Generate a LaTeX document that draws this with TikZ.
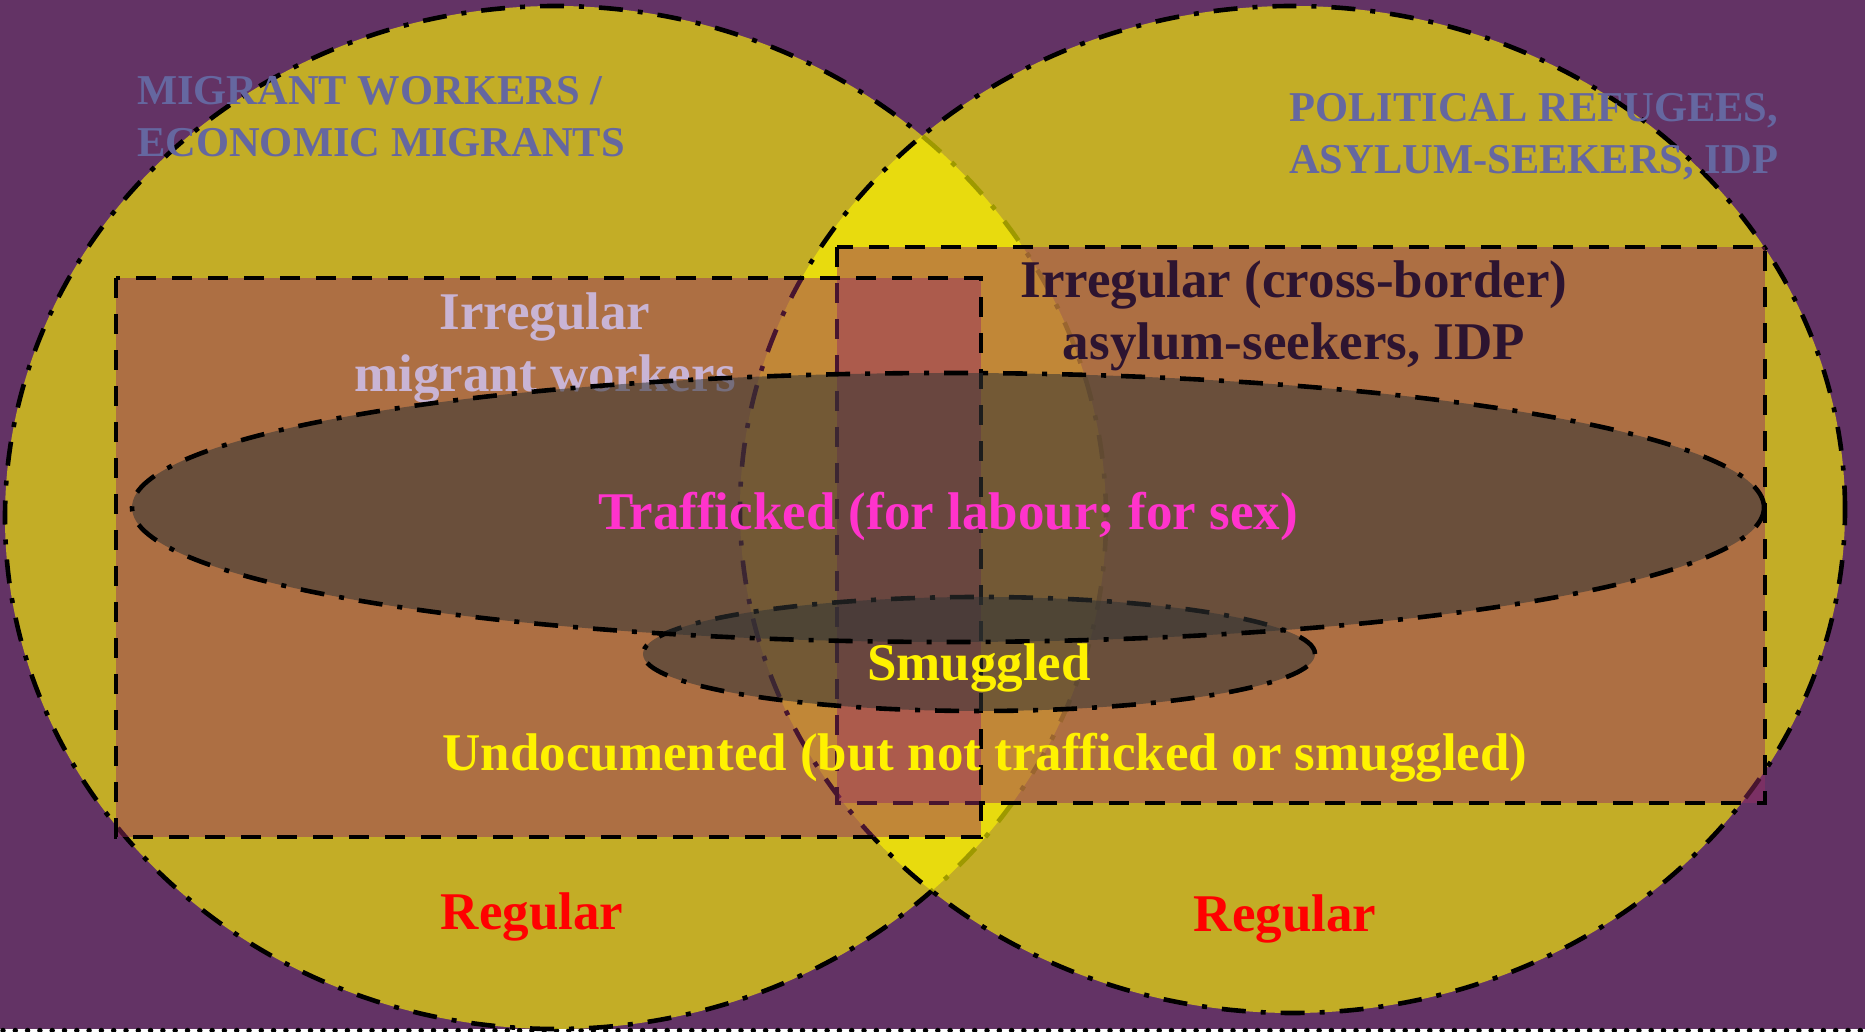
\documentclass[tikz,border=0pt]{standalone}
\usepackage{fontspec}
\setmainfont{Liberation Serif}
\definecolor{bgpurple}{RGB}{99,51,101}
\definecolor{circyellow}{RGB}{255,248,0}
\definecolor{boxplum}{RGB}{151,45,100}
\definecolor{blobgray}{RGB}{51,53,53}
\definecolor{slate}{RGB}{101,103,160}
\definecolor{lavender}{RGB}{201,180,212}
\definecolor{darkplum}{RGB}{45,20,48}
\definecolor{hotpink}{RGB}{255,51,204}
\begin{document}
\begin{tikzpicture}[x=1pt,y=1pt,
        circ/.style={line width=4.6pt,draw=black,fill=circyellow,fill opacity=0.62,dash pattern=on 24pt off 15pt on 5pt off 15pt},
        box/.style={line width=4.6pt,draw=black,fill=boxplum,fill opacity=0.48,dash pattern=on 20pt off 16pt},
        blob/.style={line width=4.6pt,draw=black,fill=blobgray,fill opacity=0.55,dash pattern=on 24pt off 15pt on 5pt off 15pt},
        lbl/.style={font=\bfseries\fontsize{53}{62}\selectfont,inner sep=0pt,anchor=base,align=center},
        cat/.style={font=\bfseries\fontsize{42.5}{52}\selectfont,inner sep=0pt,anchor=base west,align=left,text=slate}]
                \useasboundingbox (0,0) rectangle (1865,1031);
                \clip (0,0) rectangle (1865,1031);
                % background
                \fill [white] (0,0) rectangle (1865,1031);
                \fill [bgpurple] (0,2) rectangle (1865,1031);
                \draw [line width=5.5pt,line cap=round,dash pattern=on 0pt off 12.3pt] (3,0.5)-- (1865,0.5);
                % the two circles
                \draw [circ] (555.5,513.5) ellipse (550.5 and 511.5);
                \draw [circ] (1292.5,521.5) ellipse (552.5 and 503.5);
                % irregular boxes
                \draw [box] (837,784) rectangle (1765,228);
                \draw [box] (116,753) rectangle (981,194);
                \node[lbl,text=lavender] (irrmig) at (545,639) {Irregular\\migrant workers};
                % smuggled and trafficked
                \draw [blob] (979,377) ellipse (336 and 57);
                \draw [blob] (948,523.5) ellipse (816 and 134.5);
                \begin{scope}
                    \node[cat] (migrants) at (137,874) {MIGRANT WORKERS /\\ECONOMIC MIGRANTS};
                    \node[cat] (refugees) at (1289,857) {POLITICAL REFUGEES,\\ASYLUM-SEEKERS, IDP};
                    \node[lbl,text=darkplum] (irrasy) at (1294,671) {Irregular (cross-border)\\asylum-seekers, IDP};
                    \node[lbl,text=hotpink] (trafficked) at (948,501) {Trafficked (for labour; for sex)};
                    \node[lbl,text=yellow] (smuggled) at (979,350) {Smuggled};
                    \node[lbl,text=yellow] (undoc) at (985,260) {Undocumented (but not trafficked or smuggled)};
                    \node[lbl,text=red] (regleft) at (532,102) {Regular};
                    \node[lbl,text=red] (regright) at (1285,100) {Regular};
                \end{scope}
\end{tikzpicture}
\end{document}
